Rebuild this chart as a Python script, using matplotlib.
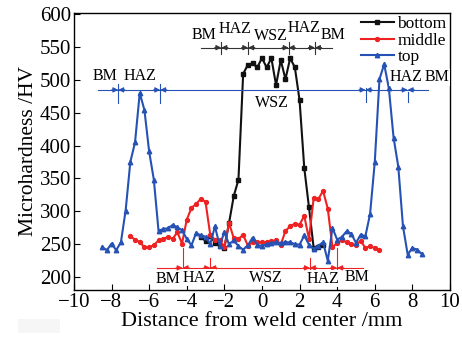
import numpy as np
import matplotlib
matplotlib.use("Agg")
import matplotlib.pyplot as plt
from matplotlib.patches import Rectangle

# ---- data ----
x_top = np.arange(-8.5, 8.51, 0.25)
y_top = [245.6, 240.5, 250.7, 240.5, 253, 301, 375, 404.7, 480, 454, 391, 348,
         270, 273, 274, 279, 275.5, 271, 258, 248, 267, 263, 261, 250, 277, 247.6,
         268, 249.6, 255.7, 246.6, 241.5, 248, 259.6, 249, 246.6, 250, 251, 253,
         251.5, 253, 252.5, 250, 249, 263, 249, 243, 247.6, 252.7, 224.5, 274.5,
         256.7, 260.8, 269.4, 265.9, 251.7, 264.3, 261.8, 295.7, 374.8, 501, 523.7,
         487, 412, 368, 277, 234, 244, 241.5, 235]

x_bottom = np.arange(-3.25, 3.26, 0.25)
y_bottom = [260, 255, 262, 252, 249, 244, 282, 323, 348, 509, 523, 525, 519, 533,
            519, 533, 492, 530, 501, 533, 519, 469, 366, 306, 244, 246, 248]

x_middle = np.arange(-7.0, 6.26, 0.25)
y_middle = [261.8, 256.7, 253, 245, 245, 248, 255.7, 258, 260.8, 258, 268, 250.7,
            287, 305, 311, 319, 314, 264, 256.7, 255.7, 245.6, 282, 259, 257.7, 264,
            247.6, 252.7, 253, 253, 253, 254, 255.7, 249, 270, 277, 281, 279.5, 293,
            257.7, 320, 318.5, 331, 304, 245, 251.7, 255.7, 253, 250, 248, 255, 244,
            246.6, 244, 240.5]

series_labels = ["bottom", "middle", "top"]

# zone boundaries (mm)
black_bounds = [-2.16, -0.73, 1.42, 2.82]
blue_bounds = [-7.64, -5.41, 5.51, 7.75]
red_bounds = [-4.22, -2.75, 2.55, 4.0]

C_BLACK = "#111111"
C_RED = "#ee2222"
C_BLUE = "#2552b4"

plt.rcParams["font.family"] = ["Liberation Serif", "DejaVu Serif"]

fig = plt.figure(figsize=(4.62, 3.38), dpi=100)
ax = fig.add_axes([0.160, 0.142, 0.814, 0.820])

ax.plot(x_bottom, y_bottom, color=C_BLACK, marker="s", ms=2.8, lw=1.5, label=series_labels[0])
ax.plot(x_middle, y_middle, color=C_RED, marker="o", ms=2.8, lw=1.5, label=series_labels[1])
ax.plot(x_top, y_top, color=C_BLUE, marker="^", ms=3.2, lw=1.5, label=series_labels[2])

ax.set_xlim(-10, 10)
ax.set_ylim(180, 602)
ax.set_xticks(np.arange(-10, 11, 2))
ax.set_yticks(np.arange(200, 601, 50))
ax.tick_params(direction="in", labelsize=15, length=4, width=0.8, pad=2)
for s in ax.spines.values():
    s.set_linewidth(1.0)

ax.set_xlabel("Distance from weld center /mm", fontsize=16, labelpad=0)
ax.set_ylabel("Microhardness /HV", fontsize=15.5, labelpad=1)


def zone_row(y, x0, x1, bounds, color, vlo, vhi, lw=0.8, alen=0.35):
    ax.plot([x0, x1], [y, y], color=color, lw=lw, zorder=3)
    for b, lo, hi in zip(bounds, vlo, vhi):
        ax.plot([b, b], [lo, hi], color=color, lw=lw, zorder=3)
        for d in (-1, 1):
            ax.annotate("", xy=(b, y), xytext=(b + d * alen, y),
                        arrowprops=dict(arrowstyle="-|>", color=color, lw=lw,
                                        mutation_scale=7.5, shrinkA=0, shrinkB=0),
                        zorder=3)


bbox = dict(facecolor="white", edgecolor="none", pad=0.5)
tfs = 11.5

# black (bottom) row
zone_row(549, -3.23, 3.7, black_bounds, "#333333",
         [540, 540, 540, 540], [557, 557, 557, 557])
for xt, yt, t in [(-3.08, 568, "BM"), (-1.44, 577, "HAZ"), (0.46, 567, "WSZ"),
                  (2.23, 579, "HAZ"), (3.8, 569, "BM")]:
    ax.text(xt, yt, t, ha="center", va="center", fontsize=tfs, bbox=bbox, zorder=4)

# blue (top) row
zone_row(484.7, -8.74, 8.85, blue_bounds, C_BLUE,
         [464, 464, 466, 466], [494, 494, 488, 481])
for xt, yt, t in [(-8.35, 506, "BM"), (-6.49, 506, "HAZ"), (0.51, 464, "WSZ"),
                  (7.66, 504, "HAZ"), (9.33, 504, "BM")]:
    ax.text(xt, yt, t, ha="center", va="center", fontsize=tfs, bbox=bbox, zorder=4)

# red (middle) row
zone_row(213.7, -5.6, 5.39, red_bounds, C_RED,
         [212, 211, 211, 212], [244, 229, 229, 244])
for xt, yt, t in [(-5.02, 196, "BM"), (-3.33, 198.5, "HAZ"), (0.2, 198.5, "WSZ"),
                  (3.26, 197, "HAZ"), (5.04, 199.5, "BM")]:
    ax.text(xt, yt, t, ha="center", va="center", fontsize=tfs, bbox=bbox, zorder=4)

leg = ax.legend(loc="upper right", bbox_to_anchor=(1.0, 1.0), frameon=False,
                fontsize=12.5, handlelength=1.9, handletextpad=0.2,
                labelspacing=0.0, borderaxespad=0.1, borderpad=0.1)

fig.patches.append(Rectangle((0.04, 0.015), 0.09, 0.04, transform=fig.transFigure,
                             facecolor="#f6f6f6", edgecolor="none"))

fig.savefig("out.png", dpi=100)
